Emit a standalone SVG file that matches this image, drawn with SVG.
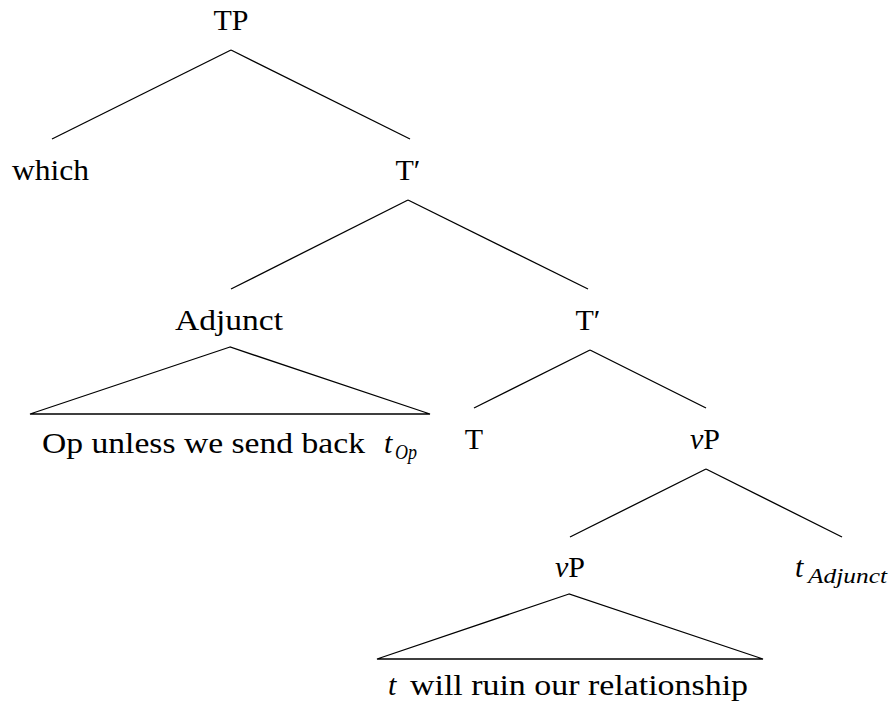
<svg xmlns="http://www.w3.org/2000/svg" width="894" height="718" viewBox="0 0 894 718" font-family="'Liberation Serif', 'DejaVu Serif', 'Times New Roman', serif">
<style>
text{font-family:'Liberation Serif','DejaVu Serif','Times New Roman',serif;font-size:30px;fill:#000}
.c{text-anchor:middle}
.i{font-style:italic}
.s{font-style:italic;font-size:21px}
line,polygon{stroke:#000;stroke-width:1.3;fill:none}
</style>
<rect width="894" height="718" fill="#fff"/>
<g id="connectors">
<line x1="231" y1="50" x2="52" y2="139"/>
<line x1="231" y1="50" x2="410" y2="139"/>
<line x1="408" y1="200" x2="231" y2="289"/>
<line x1="408" y1="200" x2="588" y2="289"/>
<polygon points="230,347 30,414 430,414"/>
<line x1="590" y1="350" x2="474" y2="408"/>
<line x1="590" y1="350" x2="706" y2="408"/>
<line x1="706" y1="469" x2="570" y2="537"/>
<line x1="706" y1="469" x2="842" y2="537"/>
<polygon points="569,594 377,659 763,659"/>
</g>
<g id="TP"><text class="c" x="231" y="30">TP</text></g>
<g id="which"><text x="12" y="180" textLength="77" lengthAdjust="spacingAndGlyphs">which</text></g>
<g id="Tbar1"><text class="c" x="408" y="180">T′</text></g>
<g id="Adjunct"><text class="c" x="229" y="330" textLength="108" lengthAdjust="spacingAndGlyphs">Adjunct</text></g>
<g id="Adjunct-yield"><text x="42" y="453" textLength="323" lengthAdjust="spacingAndGlyphs">Op unless we send back</text><text class="i" x="384" y="453">t</text><text class="s" x="395" y="459" textLength="22" lengthAdjust="spacingAndGlyphs">Op</text></g>
<g id="Tbar2"><text class="c" x="588" y="330">T′</text></g>
<g id="T"><text class="c" x="474" y="449">T</text></g>
<g id="vP1"><text class="c" x="705" y="449"><tspan class="i">v</tspan>P</text></g>
<g id="vP2"><text class="c" x="570" y="577"><tspan class="i">v</tspan>P</text></g>
<g id="tAdjunct"><text class="i" x="795" y="577">t</text><text class="s" x="808" y="583" textLength="79" lengthAdjust="spacingAndGlyphs">Adjunct</text></g>
<g id="vP-yield"><text class="i" x="388" y="695">t</text><text x="410" y="695" textLength="338" lengthAdjust="spacingAndGlyphs">will ruin our relationship</text></g>
</svg>
